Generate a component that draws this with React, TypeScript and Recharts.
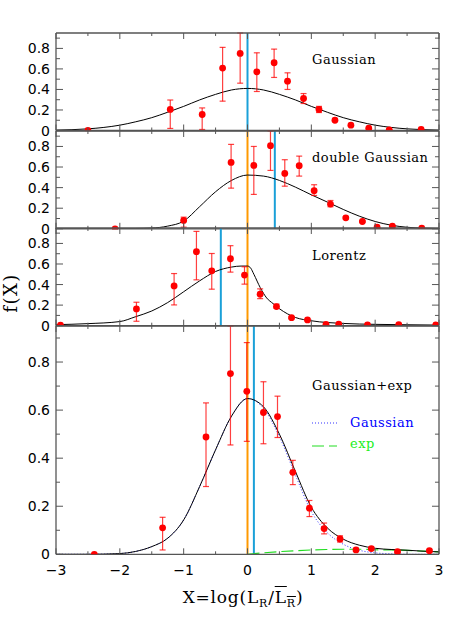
import {
  ComposedChart,
  Line,
  Scatter,
  ErrorBar,
  XAxis,
  YAxis,
  ReferenceLine,
} from "recharts";

// axis ticks
const xTicks = [-3, -2.5, -2, -1.5, -1, -0.5, 0, 0.5, 1, 1.5, 2, 2.5, 3];
const yTicks = [0, 0.1, 0.2, 0.3, 0.4, 0.5, 0.6, 0.7, 0.8, 0.9];
const Y_MAX = 0.95;

// panel 1: Gaussian
const g1X = [-2.5, -1.21, -0.71, -0.39, -0.115, 0.146, 0.417, 0.627, 0.878, 1.12, 1.37, 1.62, 1.9, 2.22, 2.72];
const g1Y = [0.0, 0.205, 0.156, 0.608, 0.751, 0.572, 0.66, 0.481, 0.312, 0.205, 0.1, 0.052, 0.022, 0.007, 0.01];
const g1Lo = [0.0, 0.02, 0.01, 0.286, 0.461, 0.38, 0.517, 0.4, 0.263, 0.175, 0.09, 0.045, 0.017, 0.004, 0.007];
const g1Hi = [0.0, 0.297, 0.22, 0.81, 1.0, 0.757, 0.793, 0.562, 0.36, 0.235, 0.11, 0.058, 0.027, 0.01, 0.013];
const curveX = [-3, -2.75, -2.5, -2.25, -2, -1.75, -1.5, -1.25, -1, -0.75, -0.5, -0.25, 0, 0.25, 0.5, 0.75, 1, 1.25, 1.5, 1.75, 2, 2.25, 2.5, 2.75, 3];
const g1Fit = [0.004, 0.008, 0.016, 0.03, 0.052, 0.085, 0.125, 0.178, 0.235, 0.298, 0.352, 0.395, 0.41, 0.395, 0.352, 0.298, 0.235, 0.178, 0.125, 0.085, 0.052, 0.03, 0.016, 0.008, 0.004];

// panel 2: double Gaussian
const g2X = [-2.075, -1.0, -0.257, 0.099, 0.36, 0.584, 0.81, 1.044, 1.3, 1.54, 1.8, 2.03, 2.27, 2.73];
const g2Y = [0.0, 0.081, 0.645, 0.616, 0.807, 0.538, 0.613, 0.37, 0.24, 0.107, 0.071, 0.016, 0.025, 0.007];
const g2Lo = [0.0, 0.016, 0.395, 0.334, 0.567, 0.414, 0.512, 0.324, 0.214, 0.097, 0.062, 0.01, 0.018, 0.004];
const g2Hi = [0.0, 0.113, 0.82, 0.8, 0.95, 0.671, 0.706, 0.428, 0.275, 0.117, 0.08, 0.022, 0.032, 0.01];
const g2Fit = [0, 0, 0, 0, 0.001, 0.003, 0.007, 0.026, 0.075, 0.215, 0.36, 0.47, 0.522, 0.512, 0.47, 0.405, 0.33, 0.26, 0.188, 0.123, 0.071, 0.035, 0.015, 0.006, 0.002];

// panel 3: Lorentz
const l3X = [-2.93, -1.74, -1.15, -0.8, -0.56, -0.267, -0.047, 0.198, 0.454, 0.69, 0.94, 1.23, 1.43, 1.88, 2.37, 2.95];
const l3Y = [0.005, 0.163, 0.387, 0.719, 0.534, 0.651, 0.492, 0.306, 0.186, 0.078, 0.056, 0.013, 0.016, 0.007, 0.01, 0.007];
const l3Lo = [0.005, 0.043, 0.202, 0.446, 0.355, 0.521, 0.404, 0.263, 0.17, 0.07, 0.05, 0.01, 0.012, 0.005, 0.008, 0.005];
const l3Hi = [0.005, 0.228, 0.507, 0.917, 0.702, 0.778, 0.573, 0.358, 0.21, 0.088, 0.063, 0.017, 0.02, 0.01, 0.013, 0.01];
const l3FitX = [-3, -2.5, -2, -1.75, -1.5, -1.25, -1, -0.75, -0.5, -0.25, -0.1, 0, 0.05, 0.1, 0.2, 0.3, 0.4, 0.5, 0.75, 1, 1.5, 2, 2.5, 3];
const l3Fit = [0.01, 0.02, 0.04, 0.088, 0.143, 0.225, 0.33, 0.436, 0.527, 0.57, 0.58, 0.58, 0.56, 0.5, 0.37, 0.27, 0.215, 0.165, 0.08, 0.048, 0.022, 0.013, 0.009, 0.006];

// panel 4: Gaussian+exp
const p4X = [-2.4, -1.33, -0.65, -0.267, -0.011, 0.25, 0.47, 0.71, 0.97, 1.2, 1.45, 1.7, 1.94, 2.35, 2.85];
const p4Y = [0.0, 0.11, 0.488, 0.752, 0.678, 0.59, 0.573, 0.341, 0.192, 0.107, 0.064, 0.018, 0.024, 0.011, 0.015];
const p4Lo = [0.0, 0.018, 0.282, 0.455, 0.47, 0.46, 0.486, 0.29, 0.157, 0.085, 0.051, 0.012, 0.018, 0.007, 0.01];
const p4Hi = [0.0, 0.154, 0.63, 1.0, 0.881, 0.718, 0.658, 0.391, 0.224, 0.13, 0.077, 0.024, 0.03, 0.015, 0.02];
const p4FitX = [-3, -2.5, -2, -1.75, -1.5, -1.25, -1, -0.75, -0.5, -0.25, 0, 0.25, 0.5, 0.75, 1, 1.25, 1.5, 1.75, 2, 2.25, 2.5, 2.75, 3];
const p4Fit = [0, 0, 0.003, 0.012, 0.032, 0.067, 0.143, 0.282, 0.435, 0.575, 0.648, 0.614, 0.5, 0.345, 0.196, 0.11, 0.063, 0.038, 0.025, 0.02, 0.017, 0.013, 0.01];
const p4Gauss = [0, 0, 0.003, 0.012, 0.032, 0.067, 0.143, 0.282, 0.435, 0.575, 0.648, 0.608, 0.489, 0.33, 0.178, 0.09, 0.042, 0.017, 0.006, 0.002, 0, 0, 0];
const p4ExpX = [0, 0.25, 0.5, 0.75, 1, 1.25, 1.5, 1.75, 2, 2.25, 2.5, 2.75, 3];
const p4Exp = [0, 0.006, 0.011, 0.015, 0.018, 0.02, 0.021, 0.021, 0.019, 0.018, 0.016, 0.013, 0.01];

const AXIS = "#555";
const RED = "#ff0000";
const ORANGE = "#ff9900";
const CYAN = "#1aa0d8";

const rows = (xs: number[], ys: number[]) => xs.map((x, i) => ({ x, y: ys[i] }));
// error bars are cut at the top of the frame
const pts = (xs: number[], ys: number[], lo: number[], hi: number[]) =>
  xs.map((x, i) => ({ x, y: ys[i], err: [ys[i] - lo[i], Math.min(hi[i], Y_MAX) - ys[i]] }));

const fmtX = (v: number) => (v < 0 ? "\u2212" + Math.abs(v) : String(v));

const xTick = (side: "top" | "bottom", labels: boolean) => (props: any) => {
  const { x, y, payload } = props;
  const v = payload.value as number;
  const major = Number.isInteger(v);
  const len = major ? 6 : 3;
  const dir = side === "bottom" ? -1 : 1;
  return (
    <g>
      <line x1={x} x2={x} y1={y} y2={y + dir * len} stroke={AXIS} />
      {labels && major && (
        <text x={x} y={y + 21} textAnchor="middle" fontSize={14} fill="#000" fontFamily="DejaVu Sans">
          {fmtX(v)}
        </text>
      )}
    </g>
  );
};

const yTick = (side: "left" | "right") => (props: any) => {
  const { x, y, payload } = props;
  const v = payload.value as number;
  const major = Math.round(v * 10) % 2 === 0;
  const len = major ? 7 : 4;
  const dir = side === "left" ? 1 : -1;
  return (
    <g>
      <line x1={x} x2={x + dir * len} y1={y} y2={y} stroke={AXIS} />
      {side === "left" && major && (
        <text x={x - 6} y={y + 5} textAnchor="end" fontSize={14} fill="#000" fontFamily="DejaVu Sans">
          {v === 0 ? "0" : v.toFixed(1)}
        </text>
      )}
    </g>
  );
};

const dot = (p: any) => <circle cx={p.cx} cy={p.cy} r={3.4} fill={RED} />;

type PanelProps = {
  top: number;
  h: number;
  points: { x: number; y: number; err: number[] }[];
  fit: { x: number; y: number }[];
  vlines: { x: number; color: string }[];
  xLabels?: boolean;
  extra?: React.ReactNode;
};

// every axis takes 1px, the margins take the rest
const Panel = ({ top, h, points, fit, vlines, xLabels = false, extra }: PanelProps) => (
  <div style={{ position: "absolute", left: 0, top: top - 10 }}>
    <ComposedChart width={463} height={h + 50} margin={{ top: 9, bottom: 39, left: 55, right: 23 }}>
      <XAxis
        xAxisId={0}
        dataKey="x"
        type="number"
        domain={[-3, 3]}
        ticks={xTicks}
        interval={0}
        height={1}
        tickSize={0}
        tickMargin={0}
        tickLine={false}
        axisLine={{ stroke: AXIS, strokeWidth: 1.3 }}
        tick={xTick("bottom", xLabels)}
        allowDataOverflow
      />
      <XAxis
        xAxisId="top"
        orientation="top"
        dataKey="x"
        type="number"
        domain={[-3, 3]}
        ticks={xTicks}
        interval={0}
        height={1}
        tickSize={0}
        tickMargin={0}
        tickLine={false}
        axisLine={{ stroke: AXIS, strokeWidth: 1.3 }}
        tick={xTick("top", false)}
        allowDataOverflow
      />
      <YAxis
        yAxisId={0}
        dataKey="y"
        type="number"
        domain={[0, Y_MAX]}
        ticks={yTicks}
        interval={0}
        width={1}
        tickSize={0}
        tickMargin={0}
        tickLine={false}
        axisLine={{ stroke: AXIS, strokeWidth: 1.3 }}
        tick={yTick("left")}
        allowDataOverflow
      />
      <YAxis
        yAxisId="right"
        orientation="right"
        dataKey="y"
        type="number"
        domain={[0, Y_MAX]}
        ticks={yTicks}
        interval={0}
        width={1}
        tickSize={0}
        tickMargin={0}
        tickLine={false}
        axisLine={{ stroke: AXIS, strokeWidth: 1.3 }}
        tick={yTick("right")}
        allowDataOverflow
      />
      {vlines.map((v, i) => (
        <ReferenceLine key={i} x={v.x} stroke={v.color} strokeWidth={2} />
      ))}
      {extra}
      <Line data={fit} dataKey="y" type="monotone" stroke="#000" strokeWidth={1} dot={false} isAnimationActive={false} />
      <Scatter data={points} dataKey="y" shape={dot} isAnimationActive={false}>
        <ErrorBar dataKey="err" direction="y" width={3} stroke={RED} strokeOpacity={0.75} strokeWidth={1.2} />
      </Scatter>
    </ComposedChart>
  </div>
);

const serif = "DejaVu Serif";

export default function App() {
  return (
    <div style={{ position: "absolute", left: 0, top: 0, width: 463, height: 617, background: "#fff" }}>
      <Panel top={33} h={97.5} points={pts(g1X, g1Y, g1Lo, g1Hi)} fit={rows(curveX, g1Fit)} vlines={[{ x: 0, color: CYAN }]} />
      <Panel
        top={130.5}
        h={97.8}
        points={pts(g2X, g2Y, g2Lo, g2Hi)}
        fit={rows(curveX, g2Fit)}
        vlines={[
          { x: 0, color: ORANGE },
          { x: 0.428, color: CYAN },
        ]}
      />
      <Panel
        top={228.3}
        h={97.7}
        points={pts(l3X, l3Y, l3Lo, l3Hi)}
        fit={rows(l3FitX, l3Fit)}
        vlines={[
          { x: -0.418, color: CYAN },
          { x: 0, color: ORANGE },
        ]}
      />
      <Panel
        top={326}
        h={228.3}
        points={pts(p4X, p4Y, p4Lo, p4Hi)}
        fit={rows(p4FitX, p4Fit)}
        xLabels
        vlines={[
          { x: 0, color: ORANGE },
          { x: 0.1, color: CYAN },
        ]}
        extra={[
          <Line key="g" data={rows(p4FitX, p4Gauss)} dataKey="y" type="monotone" stroke="#3333ff" strokeWidth={1} strokeDasharray="1 2" dot={false} isAnimationActive={false} />,
          <Line key="e" data={rows(p4ExpX, p4Exp)} dataKey="y" type="monotone" stroke="#22dd22" strokeWidth={1.2} strokeDasharray="12 5" dot={false} isAnimationActive={false} />,
        ]}
      />
      <svg width={463} height={617} style={{ position: "absolute", left: 0, top: 0, pointerEvents: "none" }}>
        <g fontFamily={serif} fontSize={13} letterSpacing={0.5} fill="#000">
          <text x={312} y={64}>Gaussian</text>
          <text x={312} y={162}>double Gaussian</text>
          <text x={312} y={260}>Lorentz</text>
          <text x={312} y={390}>Gaussian+exp</text>
          <line x1={312} x2={337} y1={423} y2={423} stroke="#3333ff" strokeDasharray="1 2" />
          <text x={350} y={427} fill="#0000ff">Gaussian</text>
          <line x1={312} x2={337} y1={446} y2={446} stroke="#22dd22" strokeDasharray="12 5" />
          <text x={350} y={448} fill="#22ee22">exp</text>
        </g>
        <text
          transform="translate(17,293) rotate(-90)"
          textAnchor="middle"
          fontFamily={serif}
          fontSize={18}
          letterSpacing={1.5}
        >
          f(X)
        </text>
      </svg>
      <div
        style={{
          position: "absolute",
          left: 0,
          width: 486,
          top: 587,
          textAlign: "center",
          fontFamily: serif,
          fontSize: 17,
          letterSpacing: 0.8,
          whiteSpace: "nowrap",
        }}
      >
        X=log(L<sub style={{ fontSize: 11 }}>R</sub>/
        <span style={{ textDecoration: "overline" }}>
          L<sub style={{ fontSize: 11 }}>R</sub>
        </span>
        )
      </div>
    </div>
  );
}
